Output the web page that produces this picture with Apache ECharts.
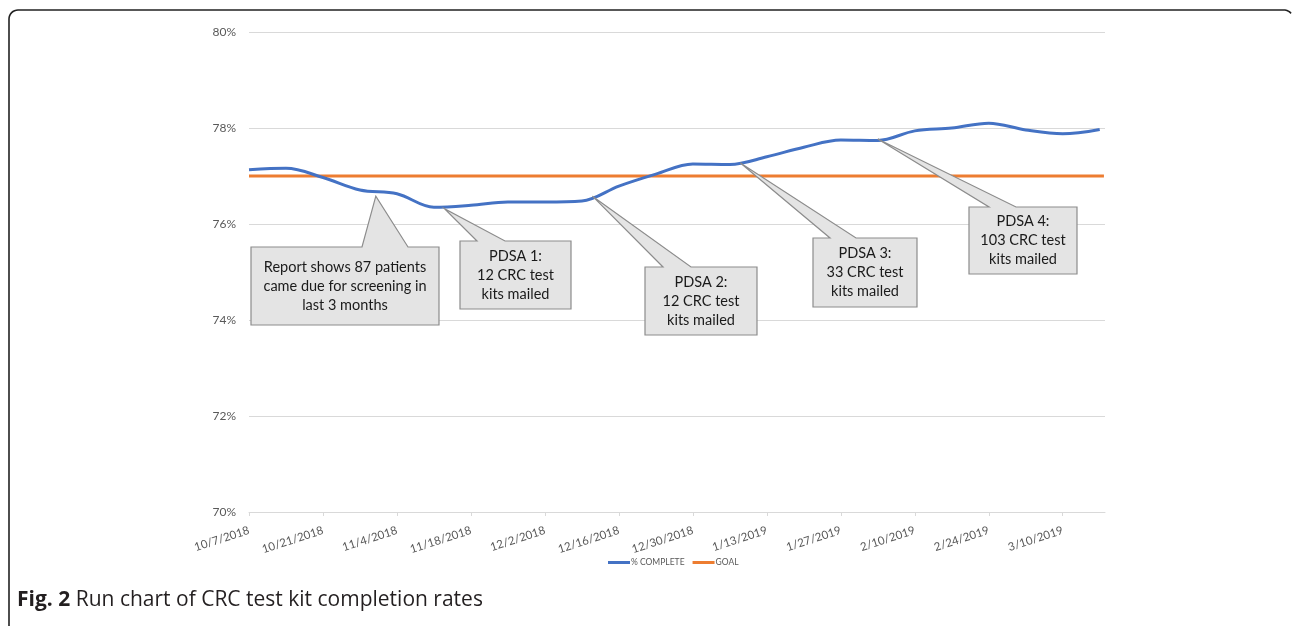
<!DOCTYPE html>
<html>
<head>
<meta charset="utf-8">
<script src="https://cdn.jsdelivr.net/npm/echarts@6/dist/echarts.min.js"></script>
<style>
  html, body { margin: 0; padding: 0; background: #fff; }
  #chart { width: 1292px; height: 626px; }
</style>
</head>
<body>
<div id="chart"></div>
<script>
// weekly run chart data
const weekDates = [
  '10/7/2018', '10/14/2018', '10/21/2018', '10/28/2018', '11/4/2018', '11/11/2018',
  '11/18/2018', '11/25/2018', '12/2/2018', '12/9/2018', '12/16/2018', '12/23/2018',
  '12/30/2018', '1/6/2019', '1/13/2019', '1/20/2019', '1/27/2019', '2/3/2019',
  '2/10/2019', '2/17/2019', '2/24/2019', '3/3/2019', '3/10/2019', '3/17/2019'
]
const pctComplete = [
  77.13, 77.16, 76.97, 76.71, 76.63, 76.35,
  76.39, 76.46, 76.46, 76.48, 76.79, 77.04,
  77.25, 77.24, 77.40, 77.60, 77.75, 77.74,
  77.94, 78.00, 78.10, 77.96, 77.88, 77.97
]
const goalValue = 77

// x axis labels (every 2 weeks) and y axis ticks
const tickLabels = [
  '10/7/2018', '10/21/2018', '11/4/2018', '11/18/2018', '12/2/2018', '12/16/2018',
  '12/30/2018', '1/13/2019', '1/27/2019', '2/10/2019', '2/24/2019', '3/10/2019'
]
const axisEndDate = '3/18/2019'
const yTicks = [70, 72, 74, 76, 78, 80]

// callouts
const calloutTexts = [
  'Report shows 87 patients\ncame due for screening in\nlast 3 months',
  'PDSA 1:\n12 CRC test\nkits mailed',
  'PDSA 2:\n12 CRC test\nkits mailed',
  'PDSA 3:\n33 CRC test\nkits mailed',
  'PDSA 4:\n103 CRC test\nkits mailed'
]
const calloutDates = ['10/31/2018', '11/13/2018', '12/11/2018', '1/8/2019', '2/3/2019']
const calloutValues = [76.58, 76.32, 76.58, 77.27, 77.77]

// box layout in pixels: [left, top, right, bottom, wedgeLeft, wedgeRight]
const calloutBoxes = [
  [251, 247, 439, 325, 362, 408],
  [460, 241, 571, 309, 477, 505],
  [645, 267, 757, 335, 663, 691],
  [813, 238, 917, 307, 830, 856],
  [969, 207, 1077, 274, 989, 1016]
]

function dayNum(s) {
  const p = s.split('/').map(Number)
  return Date.UTC(p[2], p[0] - 1, p[1]) / 86400000
}
const startDay = dayNum(weekDates[0])
const dayOf = s => dayNum(s) - startDay

const tickDays = tickLabels.map(dayOf)
const lineData = weekDates.map((d, i) => [dayOf(d), pctComplete[i]])
const goalData = weekDates.map(d => [dayOf(d), goalValue])
goalData[goalData.length - 1] = [dayOf(axisEndDate) - 0.2, goalValue]

const chart = echarts.init(document.getElementById('chart'))
const font = 'Lato, "Open Sans", sans-serif'

chart.setOption({
  animation: false,
  textStyle: { fontFamily: font },
  grid: { left: 249, right: 187, top: 32, bottom: 114 },
  legend: {
    left: 603,
    top: 553,
    icon: 'rect',
    itemWidth: 22,
    itemHeight: 3,
    itemGap: 8,
    textStyle: { fontSize: 8.5, color: '#595959', fontFamily: font, padding: [0, 0, 0, -4] },
    data: ['% COMPLETE', 'GOAL']
  },
  xAxis: {
    type: 'value',
    min: 0,
    max: dayOf(axisEndDate),
    splitLine: { show: false },
    axisLine: { show: true, lineStyle: { color: '#d9d9d9', width: 1 } },
    axisTick: { show: true, length: 4, customValues: tickDays, lineStyle: { color: '#d9d9d9' } },
    axisLabel: {
      customValues: tickDays,
      rotate: 18,
      margin: 18,
      fontSize: 11.5,
      color: '#595959',
      formatter: v => tickLabels[tickDays.indexOf(v)] || ''
    }
  },
  yAxis: {
    type: 'value',
    min: yTicks[0],
    max: yTicks[yTicks.length - 1],
    interval: 2,
    axisLine: { show: false },
    axisTick: { show: false },
    splitLine: { lineStyle: { color: '#d9d9d9', width: 1 } },
    axisLabel: { fontSize: 12, color: '#595959', margin: 13, formatter: '{value}%' }
  },
  series: [
    {
      name: '% COMPLETE',
      type: 'line',
      data: lineData,
      smooth: 0.35,
      showSymbol: false,
      lineStyle: { color: '#4472c4', width: 3 },
      itemStyle: { color: '#4472c4' },
      z: 3
    },
    {
      name: 'GOAL',
      type: 'line',
      data: goalData,
      showSymbol: false,
      lineStyle: { color: '#ed7d31', width: 3 },
      itemStyle: { color: '#ed7d31' },
      z: 2
    }
  ]
})

// callout shapes anchored to the data coordinates of their tips
const graphics = []
calloutBoxes.forEach((b, i) => {
  const tip = chart.convertToPixel({ gridIndex: 0 }, [dayOf(calloutDates[i]), calloutValues[i]])
  const [l, t, r, btm, w1, w2] = b
  graphics.push({
    type: 'polygon',
    shape: { points: [[l, t], [w1, t], tip, [w2, t], [r, t], [r, btm], [l, btm]] },
    style: { fill: '#e4e4e4', stroke: '#8c8c8c', lineWidth: 1.2 },
    z: 10
  })
  graphics.push({
    type: 'text',
    x: (l + r) / 2,
    y: (t + btm) / 2,
    style: {
      text: calloutTexts[i],
      x: 0, y: 0,
      align: 'center',
      verticalAlign: 'middle',
      fontSize: 14.5,
      lineHeight: 19,
      fontFamily: font,
      fill: '#1a1a1a'
    },
    z: 11
  })
})

// figure frame (left and top edges with rounded corners) and caption
function arcPts(cx, cy, rad, a0, a1) {
  const pts = []
  for (let k = 0; k <= 8; k++) {
    const a = a0 + (a1 - a0) * k / 8
    pts.push([cx + rad * Math.cos(a), cy + rad * Math.sin(a)])
  }
  return pts
}
const framePts = [[9, 626]]
  .concat(arcPts(18, 19, 9, Math.PI, Math.PI * 1.5))
  .concat(arcPts(1284, 19, 9, Math.PI * 1.5, Math.PI * 1.5 + 0.9))
graphics.push({
  type: 'polyline',
  shape: { points: framePts },
  style: { fill: null, stroke: '#222', lineWidth: 1.6 },
  z: 20
})
graphics.push({
  type: 'text',
  x: 17,
  y: 600,
  style: {
    text: '{b|Fig. 2} Run chart of CRC test kit completion rates',
    x: 0, y: 0,
    verticalAlign: 'middle',
    fontSize: 21,
    fontFamily: '"Open Sans", sans-serif',
    fill: '#231f20',
    rich: { b: { fontWeight: 'bold', fontSize: 21, fontFamily: '"Open Sans", sans-serif', fill: '#231f20' } }
  },
  z: 20
})

chart.setOption({ graphic: graphics })

window.addEventListener('resize', () => chart.resize())
</script>
</body>
</html>
